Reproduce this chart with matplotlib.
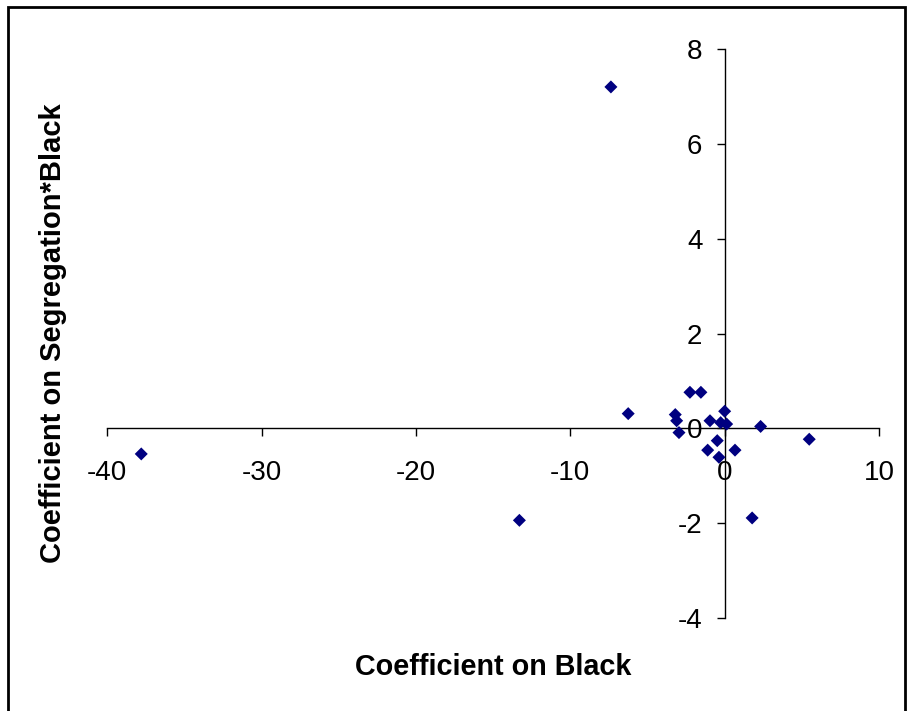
import matplotlib
matplotlib.use("Agg")
import matplotlib.pyplot as plt
from matplotlib.patches import Rectangle

plt.rcParams['font.family'] = ['Liberation Sans', 'DejaVu Sans']

coef_black = [-37.8, -13.3, -7.37, -6.25, -3.2, -3.11, -2.96, -2.25, -1.54,
              -1.1, -0.95, -0.48, -0.37, -0.26, 0.0, 0.13, 0.67, 1.78, 2.33, 5.48]
coef_seg_black = [-0.54, -1.94, 7.2, 0.31, 0.29, 0.16, -0.09, 0.76, 0.76,
                  -0.46, 0.16, -0.26, -0.61, 0.12, 0.36, 0.09, -0.46, -1.89, 0.04, -0.23]
x_ticks = [-40, -30, -20, -10, 0, 10]
y_ticks = [-4, -2, 0, 2, 4, 6, 8]

W, H = 907, 711
fig = plt.figure(figsize=(W / 100, H / 100), dpi=100)
fig.patch.set_facecolor('white')
ax = fig.add_axes([107.3 / W, 1 - 618 / H, (879 - 107.3) / W, (618 - 49) / H])

ax.scatter(coef_black, coef_seg_black, marker='D', s=44, color='#000080',
           edgecolors='none', zorder=3, clip_on=False)

ax.set_xlim(-40, 10)
ax.set_ylim(-4, 8)
ax.set_xticks(x_ticks)
ax.set_yticks(y_ticks)
ax.set_xticklabels([str(v) for v in x_ticks])
ax.set_yticklabels([str(v) for v in y_ticks])

ax.spines['left'].set_position(('data', 0))
ax.spines['bottom'].set_position(('data', 0))
ax.spines['top'].set_visible(False)
ax.spines['right'].set_visible(False)
for sp in ('left', 'bottom'):
    ax.spines[sp].set_linewidth(1.0)
    ax.spines[sp].set_color('black')

ax.tick_params(axis='x', direction='out', length=6, width=1, pad=17, labelsize=20)
ax.tick_params(axis='y', direction='out', length=6, width=1, pad=10, labelsize=20)
ax.set_facecolor('none')

fig.text(493.5 / W, 1 - 667 / H, 'Coefficient on Black', ha='center', va='center',
         fontsize=20.7, fontweight='bold')
fig.text(53.3 / W, 1 - 333 / H, 'Coefficient on Segregation*Black', ha='center',
         va='center', rotation=90, fontsize=21, fontweight='bold')

fig.add_artist(Rectangle((8 / W, -0.05), (905 - 8) / W, 1.05 - 7 / H,
                         transform=fig.transFigure, fill=False,
                         edgecolor='black', linewidth=2))

fig.savefig('out.png', dpi=100)
